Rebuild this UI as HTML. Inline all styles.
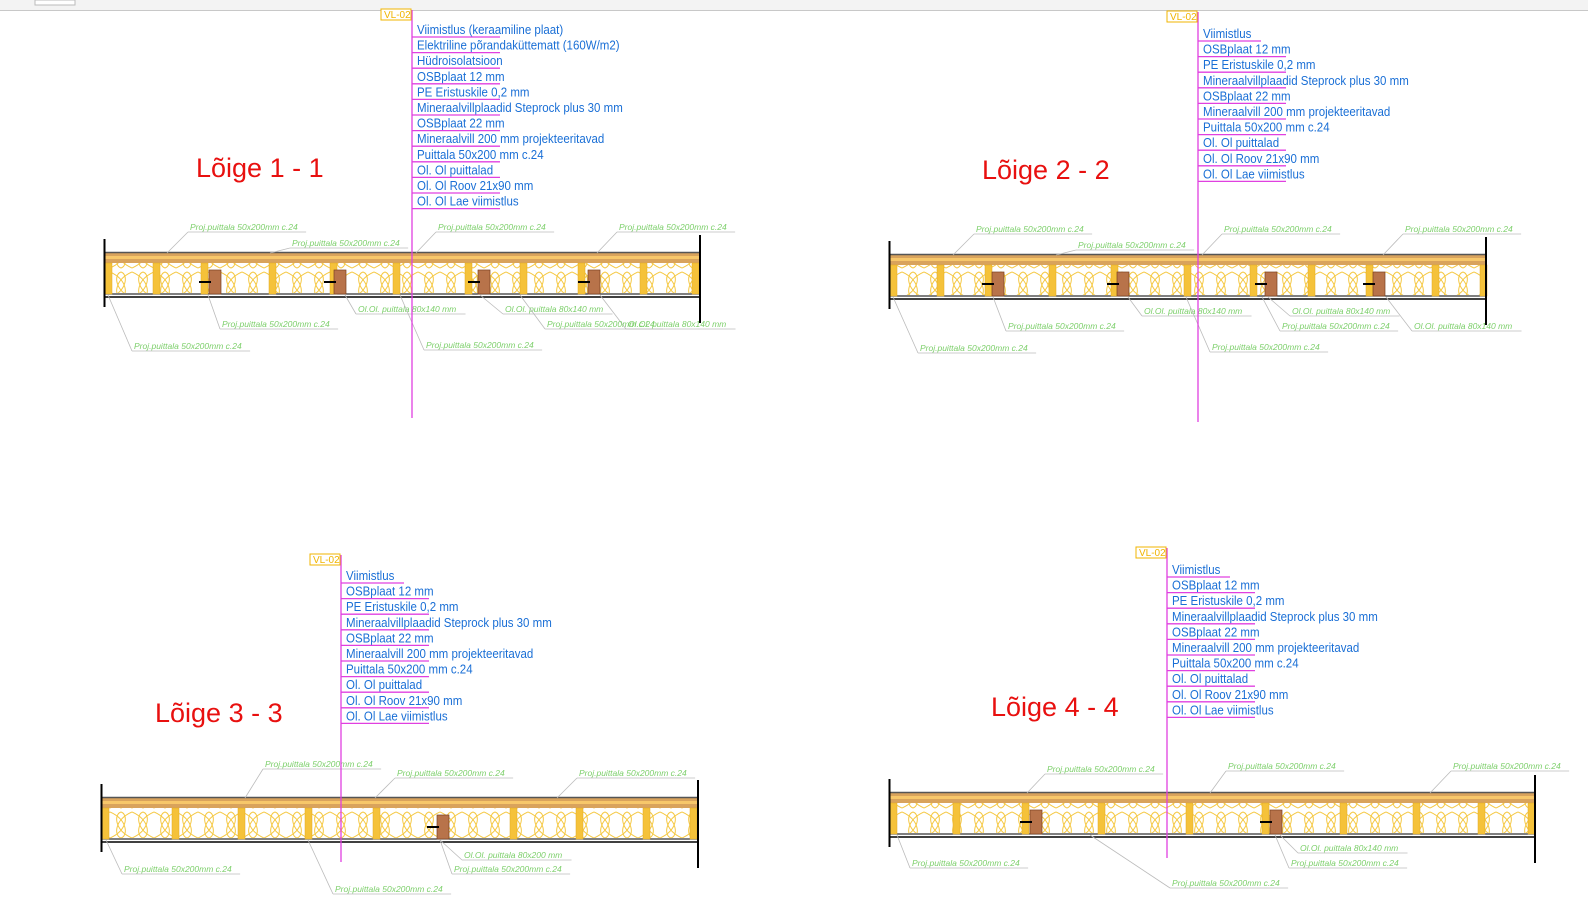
<!DOCTYPE html>
<html><head><meta charset="utf-8">
<style>
html,body{margin:0;padding:0;background:#fff;width:1588px;height:911px;overflow:hidden}
svg{display:block}
.t{font-family:"Liberation Sans",sans-serif;font-size:12.5px;fill:#1a6fd6}
.g{font-family:"Liberation Sans",sans-serif;font-size:8.5px;fill:#7ccf6a;font-style:italic}
.h{font-family:"Liberation Sans",sans-serif;font-size:27px;fill:#e8100f}
.v{font-family:"Liberation Sans",sans-serif;font-size:10px;fill:#f0b400}
</style></head><body>
<svg id="s" width="1588" height="911" xmlns="http://www.w3.org/2000/svg">
<defs>
<pattern id="ins" width="22" height="30" patternUnits="userSpaceOnUse">
<rect width="22" height="30" fill="#fff"/>
<path d="M0,28 C18,20 18,4 11,2 C4,4 4,20 22,28 M0,2 C18,10 18,26 11,28 C4,26 4,10 22,2" fill="none" stroke="#f5c842" stroke-width="1"/>
</pattern>
</defs>
<rect x="0" y="0" width="1588" height="10" fill="#f3f3f3"/>
<line x1="0" y1="10.5" x2="1588" y2="10.5" stroke="#c8c8c8"/>
<rect x="35" y="0" width="40" height="5" fill="#fff" stroke="#bbb"/>
</svg>
<script>
var S=document.getElementById('s'),NS='http://www.w3.org/2000/svg';
function el(n,a,txt){var e=document.createElementNS(NS,n);for(var k in a)e.setAttribute(k,a[k]);if(txt!==undefined)e.textContent=txt;S.appendChild(e);return e;}
function sect(o){
 var x0=o.x0,x1=o.x1,y=o.y;
 el('rect',{x:x0,y:y+2,width:x1-x0,height:10,fill:'#d9a35c'});
 el('rect',{x:x0,y:y+5,width:x1-x0,height:3,fill:'#f7c76a'});
 el('line',{x1:x0,y1:y+1.5,x2:x1,y2:y+1.5,stroke:'#555',"stroke-width":1.5});
 el('rect',{x:x0,y:y+12,width:x1-x0,height:30,fill:'url(#ins)'});
 el('line',{x1:x0,y1:y+43,x2:x1,y2:y+43,stroke:'#000',"stroke-width":1});
 el('line',{x1:x0,y1:y+46,x2:x1,y2:y+46,stroke:'#000',"stroke-width":1.5});
 o.posts.forEach(function(p){el('rect',{x:p,y:y+12,width:7,height:31,fill:'#f5c23a',stroke:'#e0a820',"stroke-width":.5});});
 o.brown.forEach(function(p){el('rect',{x:p,y:y+19,width:12,height:24,fill:'#b8734a',stroke:'#7a4020',"stroke-width":.7});el('line',{x1:p-10,y1:y+31,x2:p+2,y2:y+31,stroke:'#000',"stroke-width":2});});
 el('line',{x1:x0+0.5,y1:y-12,x2:x0+0.5,y2:y+56,stroke:'#000',"stroke-width":2});
 el('line',{x1:x1,y1:y-16,x2:x1,y2:y+72,stroke:'#000',"stroke-width":2});
 o.gl.forEach(function(g){
  var tx=g[0],ty=g[1],ex=g[2],ey=g[3],s=g[4]||'Proj.puittala 50x200mm c.24';
  var w=s.length*4.3;
  el('line',{x1:ex,y1:ey,x2:tx-2,y2:ty+2,stroke:'#bbb',"stroke-width":.8});
  el('line',{x1:tx-2,y1:ty+2,x2:tx+w,y2:ty+2,stroke:'#bbb',"stroke-width":.8});
  el('text',{x:tx,y:ty,class:'g'},s);
 });
 var mx=o.mx;
 el('line',{x1:mx,y1:o.my0,x2:mx,y2:o.my1,stroke:'#e040e0',"stroke-width":1.3});
 el('rect',{x:mx-31,y:o.my0-1,width:30,height:11,fill:'#fff',stroke:'#f0b400',"stroke-width":1});
 el('text',{x:mx-28,y:o.my0+8,class:'v'},'VL-02');
 o.items.forEach(function(t,i){
  var ly=o.ly+i*15.6;
  var e=el('text',{x:mx+5,y:ly,class:'t'},t);
  var w=e.getComputedTextLength();
  if(w>0){e.setAttribute('textLength',(w*0.92).toFixed(1));e.setAttribute('lengthAdjust','spacingAndGlyphs');}
  el('line',{x1:mx,y1:ly+3,x2:mx+Math.min(t.length*6.3,88),y2:ly+3,stroke:'#e040e0',"stroke-width":1.3});
 });
 el('text',{x:o.hx,y:o.hy,class:'h'},o.title);
}
var A=['Viimistlus','OSBplaat 12 mm','PE  Eristuskile 0,2 mm','Mineraalvillplaadid Steprock plus 30 mm','OSBplaat 22 mm','Mineraalvill 200 mm projekteeritavad','Puittala 50x200 mm c.24','Ol. Ol puittalad','Ol. Ol Roov 21x90 mm','Ol. Ol Lae viimistlus'];
sect({x0:104,x1:700,y:251,mx:412,my0:10,my1:418,ly:34,hx:196,hy:177,title:'Lõige 1 - 1',
 items:['Viimistlus (keraamiline plaat)','Elektriline põrandaküttematt (160W/m2)','Hüdroisolatsioon','OSBplaat 12 mm','PE  Eristuskile 0,2 mm','Mineraalvillplaadid Steprock plus 30 mm','OSBplaat 22 mm','Mineraalvill 200 mm projekteeritavad','Puittala 50x200 mm c.24','Ol. Ol puittalad','Ol. Ol Roov 21x90 mm','Ol. Ol Lae viimistlus'],
 posts:[105,153,201,269,330,393,465,520,578,640,692],brown:[209,334,478,588],
 gl:[[190,230,167,253],[292,246,270,253],[438,230,416,253],[619,230,597,253],[222,327,208,295],[134,349,108,295],[358,312,345,295,'Ol.Ol. puittala 80x140 mm'],[505,312,480,295,'Ol.Ol. puittala 80x140 mm'],[628,327,600,295,'Ol.Ol. puittala 80x140 mm'],[426,348,400,295],[547,327,520,295]]});
sect({x0:889,x1:1486,y:253,mx:1198,my0:12,my1:422,ly:38,hx:982,hy:179,title:'Lõige 2 - 2',items:A,
 posts:[890,937,985,1049,1111,1184,1250,1308,1366,1432,1480],brown:[992,1117,1265,1373],
 gl:[[976,232,953,255],[1078,248,1056,255],[1224,232,1202,255],[1405,232,1383,255],[1008,329,993,297],[920,351,893,297],[1144,314,1128,297,'Ol.Ol. puittala 80x140 mm'],[1292,314,1268,297,'Ol.Ol. puittala 80x140 mm'],[1414,329,1386,297,'Ol.Ol. puittala 80x140 mm'],[1212,350,1186,297],[1282,329,1262,297]]});
sect({x0:101,x1:698,y:796,mx:341,my0:555,my1:862,ly:580,hx:155,hy:722,title:'Lõige 3 - 3',items:A,
 posts:[102,172,238,305,373,510,576,643,690],brown:[437],
 gl:[[265,767,245,798],[397,776,375,798],[579,776,557,798],[124,872,106,840],[335,892,308,840],[454,872,440,840],[464,858,440,840,'Ol.Ol. puittala 80x200 mm']]});
sect({x0:889,x1:1535,y:791,mx:1167,my0:548,my1:858,ly:574,hx:991,hy:716,title:'Lõige 4 - 4',items:A,
 posts:[890,953,1022,1098,1186,1262,1340,1413,1478,1528],brown:[1030,1270],
 gl:[[1047,772,1027,793],[1228,769,1210,793],[1453,769,1430,793],[912,866,897,835],[1172,886,1090,835],[1291,866,1275,835],[1300,851,1280,835,'Ol.Ol. puittala 80x140 mm']]});
</script>
</body></html>
